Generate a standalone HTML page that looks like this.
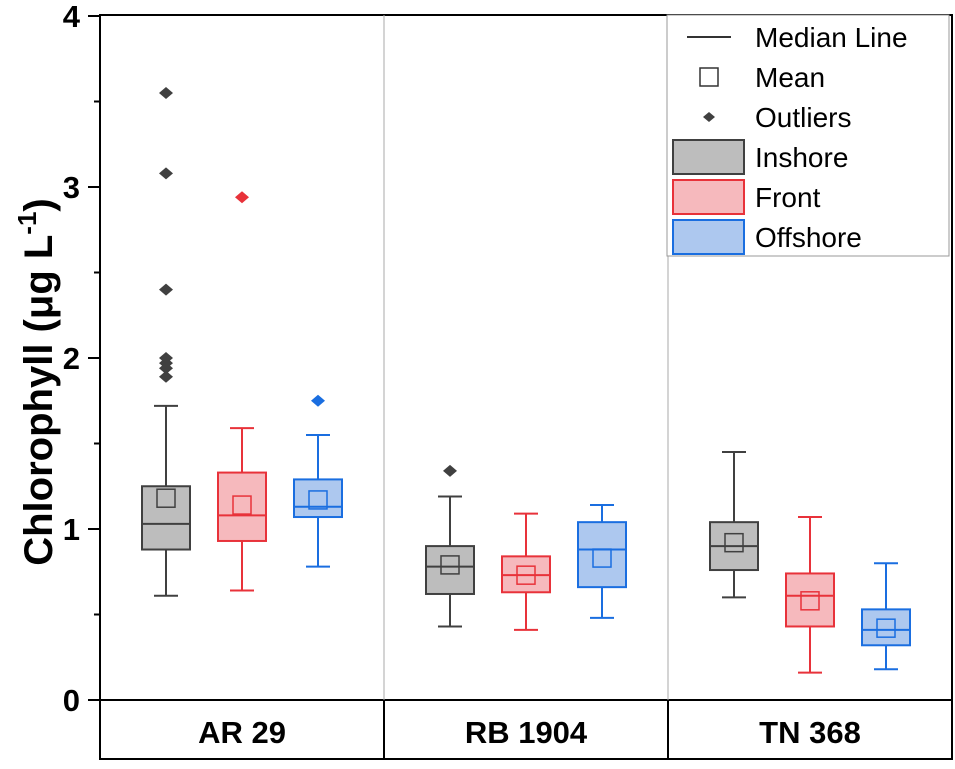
<!DOCTYPE html>
<html><head><meta charset="utf-8"><style>
body{margin:0;background:#fff;}
svg{font-family:"Liberation Sans",Arial,sans-serif;}
</style></head><body>
<svg id="c" width="955" height="764" viewBox="0 0 955 764"></svg>
<script>
const groups=["AR 29","RB 1904","TN 368"];
const seriesNames=["Inshore","Front","Offshore"];
const whiskerHigh=[[1.72,1.59,1.55],[1.19,1.09,1.14],[1.45,1.07,0.80]];
const q3=[[1.25,1.33,1.29],[0.90,0.84,1.04],[1.04,0.74,0.53]];
const medians=[[1.03,1.08,1.13],[0.78,0.73,0.88],[0.90,0.61,0.41]];
const q1=[[0.88,0.93,1.07],[0.62,0.63,0.66],[0.76,0.43,0.32]];
const whiskerLow=[[0.61,0.64,0.78],[0.43,0.41,0.48],[0.60,0.16,0.18]];
const means=[[1.18,1.14,1.17],[0.79,0.73,0.83],[0.92,0.58,0.42]];
const outliers=[[[3.55,3.08,2.40,2.0,1.97,1.94,1.89],[2.94],[1.75]],[[1.34],[],[]],[[],[],[]]];
const yTicks=[0,1,2,3,4];
const strokes=["#404040","#e8323a","#1a6ee0"];
const fills=["#bdbdbd","#f6b9bd","#adc8ef"];
const outFill=["#404040","#e8323a","#1a6ee0"];
const NS="http://www.w3.org/2000/svg";
const svg=document.getElementById('c');
const L=100,R=952,T=16,B=700;
const y=v=>B-(v/4)*(B-T);
const groupW=(R-L)/3;
const x=(g,s)=>L+groupW*g+groupW/2+(s-1)*76;
function el(t,a,p){const e=document.createElementNS(NS,t);for(const k in a)e.setAttribute(k,a[k]);(p||svg).appendChild(e);return e;}
let f=el('rect',{x:L,y:15,width:R-L,height:B-15,fill:'none',stroke:'#000','stroke-width':2});

let cp=el('rect',{x:L,y:B,width:R-L,height:59,fill:'none',stroke:'#000','stroke-width':2});

for(let g=1;g<3;g++){
 let d=el('line',{x1:L+groupW*g,x2:L+groupW*g,y1:15,y2:B,stroke:'#aaa','stroke-width':1});
 
 let d2=el('line',{x1:L+groupW*g,x2:L+groupW*g,y1:B,y2:759,stroke:'#000','stroke-width':2});
 
}
groups.forEach((n,g)=>{let t=el('text',{x:L+groupW*g+groupW/2,y:743,'text-anchor':'middle','font-size':31,'font-weight':'bold'});t.textContent=n;
});
yTicks.forEach(v=>{let tk=el('line',{x1:L-12,x2:L,y1:y(v),y2:y(v),stroke:'#000','stroke-width':2});

let t=el('text',{x:L-20,y:y(v)+11,'text-anchor':'end','font-size':31,'font-weight':'bold'});t.textContent=v;

if(v<4){let m=el('line',{x1:L-6,x2:L,y1:y(v+0.5),y2:y(v+0.5),stroke:'#000','stroke-width':2});
}});
let yt=el('text',{transform:'translate(52,382) rotate(-90)','text-anchor':'middle','font-size':40,'font-weight':'bold'});
yt.innerHTML='Chlorophyll (μg L<tspan dy="-16" font-size="26">-1</tspan><tspan dy="16">)</tspan>';

for(let g=0;g<3;g++)for(let s=0;s<3;s++){
 const cx=x(g,s),c=strokes[s],w=48;
 const gr=el('g',{});
 el('line',{x1:cx,x2:cx,y1:y(whiskerHigh[g][s]),y2:y(q3[g][s]),stroke:c,'stroke-width':2},gr);
 el('line',{x1:cx,x2:cx,y1:y(whiskerLow[g][s]),y2:y(q1[g][s]),stroke:c,'stroke-width':2},gr);
 el('line',{x1:cx-12,x2:cx+12,y1:y(whiskerHigh[g][s]),y2:y(whiskerHigh[g][s]),stroke:c,'stroke-width':2},gr);
 el('line',{x1:cx-12,x2:cx+12,y1:y(whiskerLow[g][s]),y2:y(whiskerLow[g][s]),stroke:c,'stroke-width':2},gr);
 el('rect',{x:cx-w/2,y:y(q3[g][s]),width:w,height:y(q1[g][s])-y(q3[g][s]),fill:fills[s],stroke:c,'stroke-width':2},gr);
 el('line',{x1:cx-w/2,x2:cx+w/2,y1:y(medians[g][s]),y2:y(medians[g][s]),stroke:c,'stroke-width':2},gr);
 el('rect',{x:cx-9,y:y(means[g][s])-9,width:18,height:18,fill:'none',stroke:c,'stroke-width':1.5},gr);
 outliers[g][s].forEach(v=>{const p=el('path',{d:`M${cx} ${y(v)-6}L${cx+7} ${y(v)}L${cx} ${y(v)+6}L${cx-7} ${y(v)}Z`,fill:outFill[s]},gr);
 });
}
const lg=el('g',{});
el('rect',{x:667,y:15,width:282,height:241,fill:'#fff',stroke:'#999','stroke-width':1},lg);
const ly=[37,77,117,157,197,237];
const labels=["Median Line","Mean","Outliers","Inshore","Front","Offshore"];
el('line',{x1:687,x2:731,y1:ly[0],y2:ly[0],stroke:'#333','stroke-width':2},lg);
el('rect',{x:700,y:ly[1]-9,width:18,height:18,fill:'none',stroke:'#333','stroke-width':1.5},lg);
el('path',{d:`M709 ${ly[2]-5}L715 ${ly[2]}L709 ${ly[2]+5}L703 ${ly[2]}Z`,fill:'#404040'},lg);
for(let s=0;s<3;s++)el('rect',{x:673,y:ly[3+s]-17,width:71,height:34,fill:fills[s],stroke:strokes[s],'stroke-width':2},lg);
labels.forEach((t,i)=>{const e=el('text',{x:755,y:ly[i]+10,'font-size':28},lg);e.textContent=t;
});
</script>
</body></html>
